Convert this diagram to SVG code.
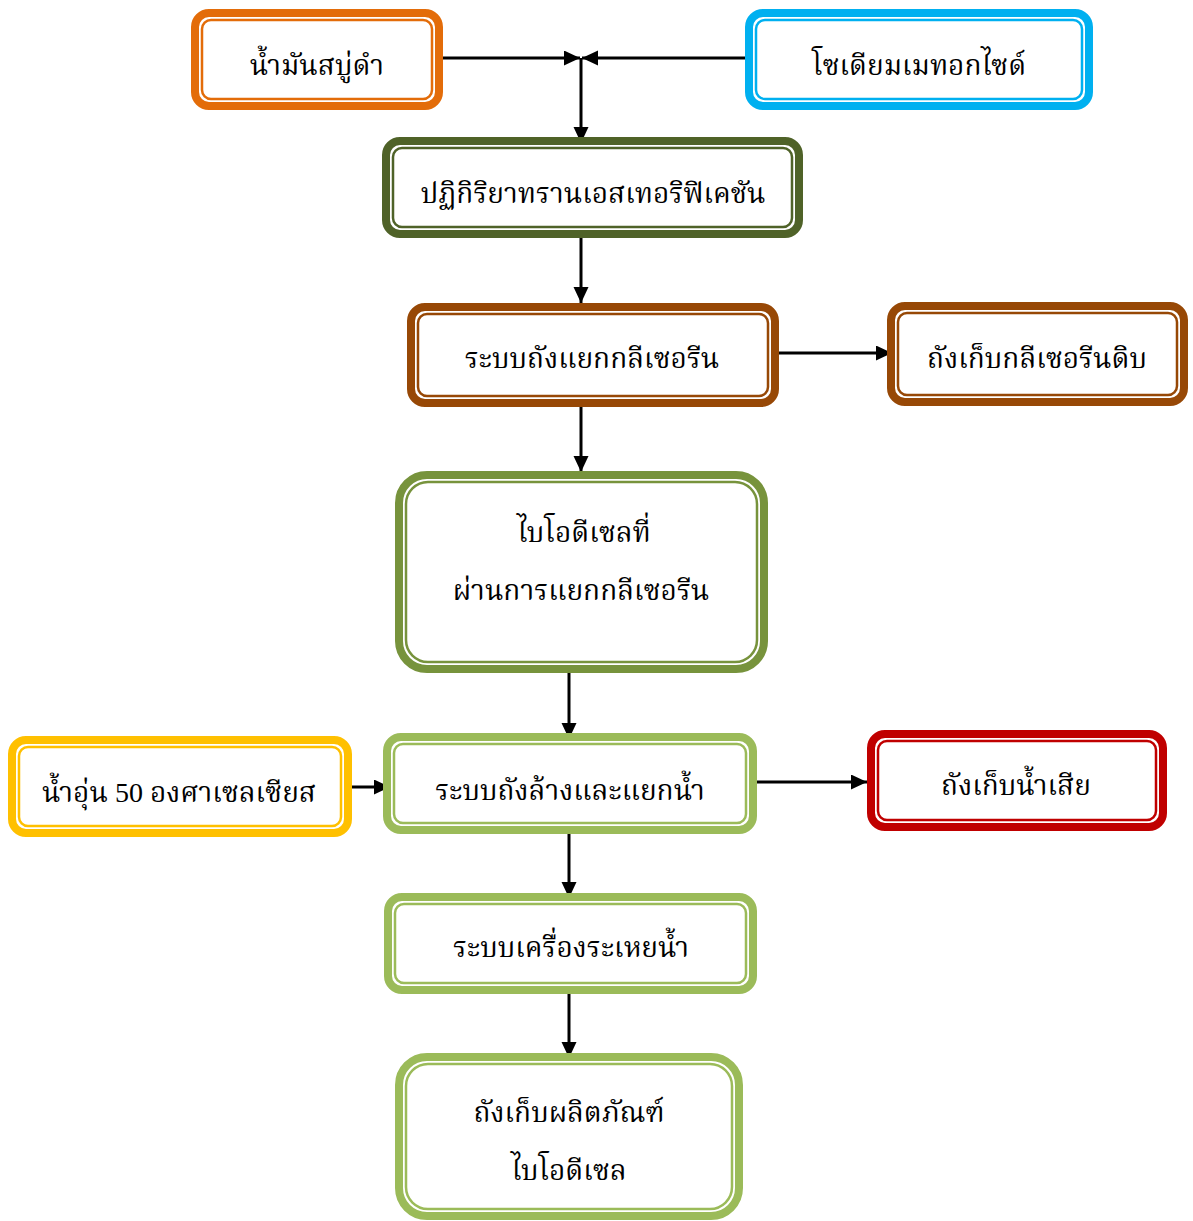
<svg xmlns="http://www.w3.org/2000/svg" width="1193" height="1221" viewBox="0 0 1193 1221">
<defs>
<marker id="ah" markerUnits="userSpaceOnUse" markerWidth="18" markerHeight="16" refX="16" refY="7.5" orient="auto">
<path d="M0,0 L16,7.5 L0,15 Z" fill="#000"/>
</marker>
</defs>
<style>
.o{fill:#fff;stroke-width:8}
.i{fill:none;stroke-width:2.5}
.t{font-family:"Liberation Serif","Noto Serif Thai","Noto Sans Thai",serif;font-size:28px;fill:#000;text-anchor:middle}
.c{fill:none;stroke:#000;stroke-width:3}
.orange{stroke:#E36C09}.cyan{stroke:#00B0F0}.dgreen{stroke:#4F6228}.brown{stroke:#974806}
.olive{stroke:#77933C}.yellow{stroke:#FFC000}.lgreen{stroke:#9BBB59}.red{stroke:#C00000}
</style>
<g id="connectors">
<path class="c" d="M437,58 H580" marker-end="url(#ah)"/>
<path class="c" d="M745,58 H582" marker-end="url(#ah)"/>
<path class="c" d="M581,58 V143" marker-end="url(#ah)"/>
<path class="c" d="M581,238 V303" marker-end="url(#ah)"/>
<path class="c" d="M581,407 V472" marker-end="url(#ah)"/>
<path class="c" d="M779,353 H892" marker-end="url(#ah)"/>
<path class="c" d="M569,668 V739" marker-end="url(#ah)"/>
<path class="c" d="M352,787 H390" marker-end="url(#ah)"/>
<path class="c" d="M757,782 H867" marker-end="url(#ah)"/>
<path class="c" d="M569,834 V898" marker-end="url(#ah)"/>
<path class="c" d="M569,994 V1058" marker-end="url(#ah)"/>
</g>
<g id="n1">
<rect class="o orange" x="195" y="13" width="244" height="93" rx="14"/>
<rect class="i orange" x="202" y="20" width="230" height="79" rx="9"/>
<text class="t" x="317" y="75">น้ำมันสบู่ดำ</text>
</g>
<g id="n2">
<rect class="o cyan" x="749" y="13" width="340" height="93" rx="14"/>
<rect class="i cyan" x="756" y="20" width="326" height="79" rx="9"/>
<text class="t" x="919" y="75">โซเดียมเมทอกไซด์</text>
</g>
<g id="n3">
<rect class="o dgreen" x="386" y="141" width="413" height="93" rx="14"/>
<rect class="i dgreen" x="393" y="148" width="399" height="79" rx="9"/>
<text class="t" x="593" y="203">ปฏิกิริยาทรานเอสเทอริฟิเคชัน</text>
</g>
<g id="n4">
<rect class="o brown" x="411" y="307" width="364" height="96" rx="14"/>
<rect class="i brown" x="418" y="314" width="350" height="82" rx="9"/>
<text class="t" x="592" y="368">ระบบถังแยกกลีเซอรีน</text>
</g>
<g id="n5">
<rect class="o brown" x="891" y="306" width="293" height="96" rx="14"/>
<rect class="i brown" x="898" y="313" width="279" height="82" rx="9"/>
<text class="t" x="1037" y="368">ถังเก็บกลีเซอรีนดิบ</text>
</g>
<g id="n6">
<rect class="o olive" x="399" y="475" width="365" height="194" rx="28"/>
<rect class="i olive" x="406" y="482" width="351" height="180" rx="22"/>
<text class="t" x="584" y="542">ไบโอดีเซลที่</text>
<text class="t" x="581" y="600">ผ่านการแยกกลีเซอรีน</text>
</g>
<g id="n7">
<rect class="o yellow" x="12" y="740" width="336" height="93" rx="14"/>
<rect class="i yellow" x="19" y="747" width="322" height="79" rx="9"/>
<text class="t" x="179" y="802">น้ำอุ่น 50 องศาเซลเซียส</text>
</g>
<g id="n8">
<rect class="o lgreen" x="387" y="737" width="366" height="93" rx="14"/>
<rect class="i lgreen" x="394" y="744" width="352" height="79" rx="9"/>
<text class="t" x="570" y="800">ระบบถังล้างและแยกน้ำ</text>
</g>
<g id="n9">
<rect class="o red" x="871" y="734" width="292" height="93" rx="14"/>
<rect class="i red" x="878" y="741" width="278" height="79" rx="9"/>
<text class="t" x="1016" y="795">ถังเก็บน้ำเสีย</text>
</g>
<g id="n10">
<rect class="o lgreen" x="388" y="897" width="365" height="93" rx="14"/>
<rect class="i lgreen" x="395" y="904" width="351" height="79" rx="9"/>
<text class="t" x="571" y="957">ระบบเครื่องระเหยน้ำ</text>
</g>
<g id="n11">
<rect class="o lgreen" x="399" y="1057" width="340" height="159" rx="28"/>
<rect class="i lgreen" x="406" y="1064" width="326" height="145" rx="22"/>
<text class="t" x="569" y="1122">ถังเก็บผลิตภัณฑ์</text>
<text class="t" x="569" y="1180">ไบโอดีเซล</text>
</g>
</svg>
